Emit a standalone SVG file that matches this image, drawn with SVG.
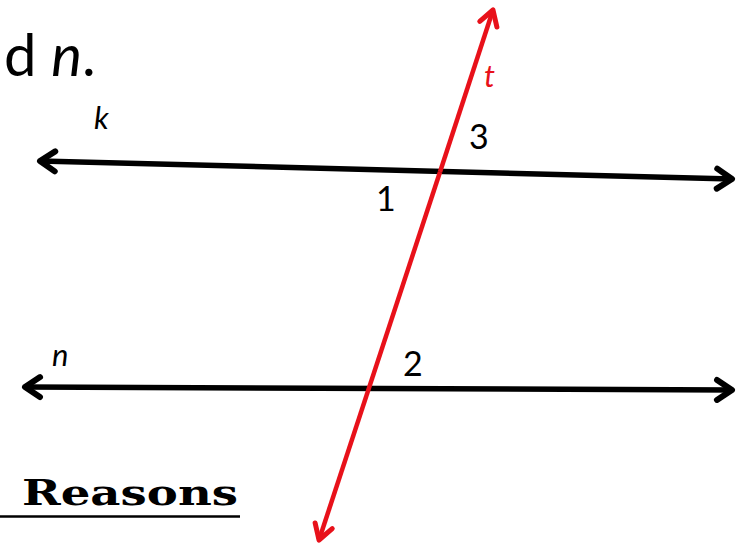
<svg xmlns="http://www.w3.org/2000/svg" width="739" height="548" viewBox="0 0 739 548">
<style>
.lbl{font-family:"Lato","Open Sans","Liberation Sans",sans-serif;fill:#000}
.it{font-style:italic}
.blk{stroke:#000;stroke-width:5.5;fill:none}
.red{stroke:#e8111a;stroke-width:4.5;fill:none}
</style>
<defs>
<marker id="ab" markerUnits="userSpaceOnUse" markerWidth="40" markerHeight="40" viewBox="-25 -20 40 40" refX="0" refY="0" orient="auto-start-reverse" overflow="visible">
<path d="M-15,-10 L0,0 L-15,10" fill="none" stroke="#000" stroke-width="6" stroke-linejoin="round" stroke-linecap="round"/>
</marker>
<marker id="ar" markerUnits="userSpaceOnUse" markerWidth="40" markerHeight="40" viewBox="-25 -20 40 40" refX="0" refY="0" orient="auto" overflow="visible">
<path d="M-15,-9 L0,0 L-15,9" fill="none" stroke="#e8111a" stroke-width="5" stroke-linejoin="round" stroke-linecap="round"/>
</marker>
</defs>
<rect width="739" height="548" fill="#fff"/>
<g id="connectors">
<line id="line-k" class="blk" x1="40" y1="161" x2="732" y2="179" marker-start="url(#ab)" marker-end="url(#ab)"/>
<line id="line-n" class="blk" x1="25" y1="387" x2="732" y2="390" marker-start="url(#ab)" marker-end="url(#ab)"/>
<line id="line-t-up" class="red" x1="440" y1="172" x2="493" y2="10" marker-end="url(#ar)"/>
<line id="line-t-down" class="red" x1="440" y1="172" x2="319" y2="540" marker-end="url(#ar)"/>
</g>
<g id="title">
<text class="lbl" x="4" y="76" font-size="58">d <tspan class="it">n</tspan>.</text>
</g>
<g id="label-k"><text class="lbl it" x="94" y="129" font-size="31">k</text></g>
<g id="label-t"><text class="lbl it" x="484" y="87" font-size="31" style="fill:#e8111a">t</text></g>
<g id="label-3"><text class="lbl" x="469" y="149" font-size="34">3</text></g>
<g id="label-1"><text class="lbl" x="376" y="211" font-size="34">1</text></g>
<g id="label-2"><text class="lbl" x="403" y="376" font-size="34">2</text></g>
<g id="label-n"><text class="lbl it" x="52" y="366" font-size="31">n</text></g>
<g id="reasons">
<text x="22" y="505" font-family="'DejaVu Serif','Liberation Serif',serif" font-weight="bold" font-size="36" textLength="216" lengthAdjust="spacingAndGlyphs">Reasons</text>
<line x1="0" y1="516.5" x2="240" y2="516.5" stroke="#000" stroke-width="2.5"/>
</g>
</svg>
